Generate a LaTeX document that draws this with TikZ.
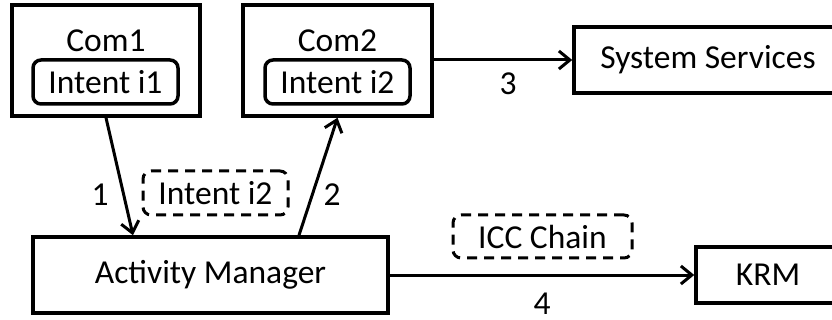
\documentclass[tikz,border=0pt]{standalone}
\usepackage{fontspec}
\setmainfont{Carlito}
\usetikzlibrary{arrows.meta}
\begin{document}
\begin{tikzpicture}[x=1pt,y=-1pt,
  lbl/.style={font=\fontsize{33.5}{40}\selectfont, inner sep=0pt},
  box/.style={draw, line width=3.5pt, inner sep=0pt, font=\fontsize{33.5}{40}\selectfont},
  intentbox/.style={box, rounded corners=8pt, minimum width=145pt, minimum height=44pt},
  dashbox/.style={box, line width=3pt, rounded corners=8pt, dash pattern=on 10pt off 7pt},
  arr/.style={line width=3pt, -{Straight Barb[length=11pt,width=18pt]}}]
\useasboundingbox (0,0) rectangle (832,320);

% components with their intents
\node[box, minimum width=188pt, minimum height=111pt] (com1) at (106,60.5) {};
\node[lbl, anchor=base] (com1t) at (106,52) {Com1};
\node[intentbox] (i1) at (105.5,82) {Intent i1};

\node[box, minimum width=189pt, minimum height=111pt] (com2) at (337.5,60.5) {};
\node[lbl, anchor=base] (com2t) at (337.5,52) {Com2};
\node[intentbox] (i2) at (337.5,82) {Intent i2};

% services and managers
\node[box, minimum width=268pt, minimum height=66pt] (sys) at (708,60) {System Services};
\node[box, minimum width=355pt, minimum height=76pt] (am) at (210.5,275) {Activity Manager};
\node[box, minimum width=144pt, minimum height=56pt] (krm) at (768,275) {KRM};

% messages in transit
\node[dashbox, minimum width=145pt, minimum height=44pt] (msg) at (215.5,193) {Intent i2};
\node[dashbox, minimum width=179pt, minimum height=43pt] (chain) at (542.5,236.5) {ICC Chain};

% connectors
\draw[arr] (com1.south) -- ([xshift=-77.5pt]am.north);
\draw[arr] ([xshift=88.5pt]am.north) -- (com2.south);
\draw[arr] (com2.east |- sys.west) -- (sys.west);
\draw[arr] (am.east) -- (krm.west);

% step numbers
\node[lbl] (n1) at (100,195) {1};
\node[lbl] (n2) at (332,195) {2};
\node[lbl] (n3) at (508,84) {3};
\node[lbl] (n4) at (542,303.5) {4};
\end{tikzpicture}
\end{document}
